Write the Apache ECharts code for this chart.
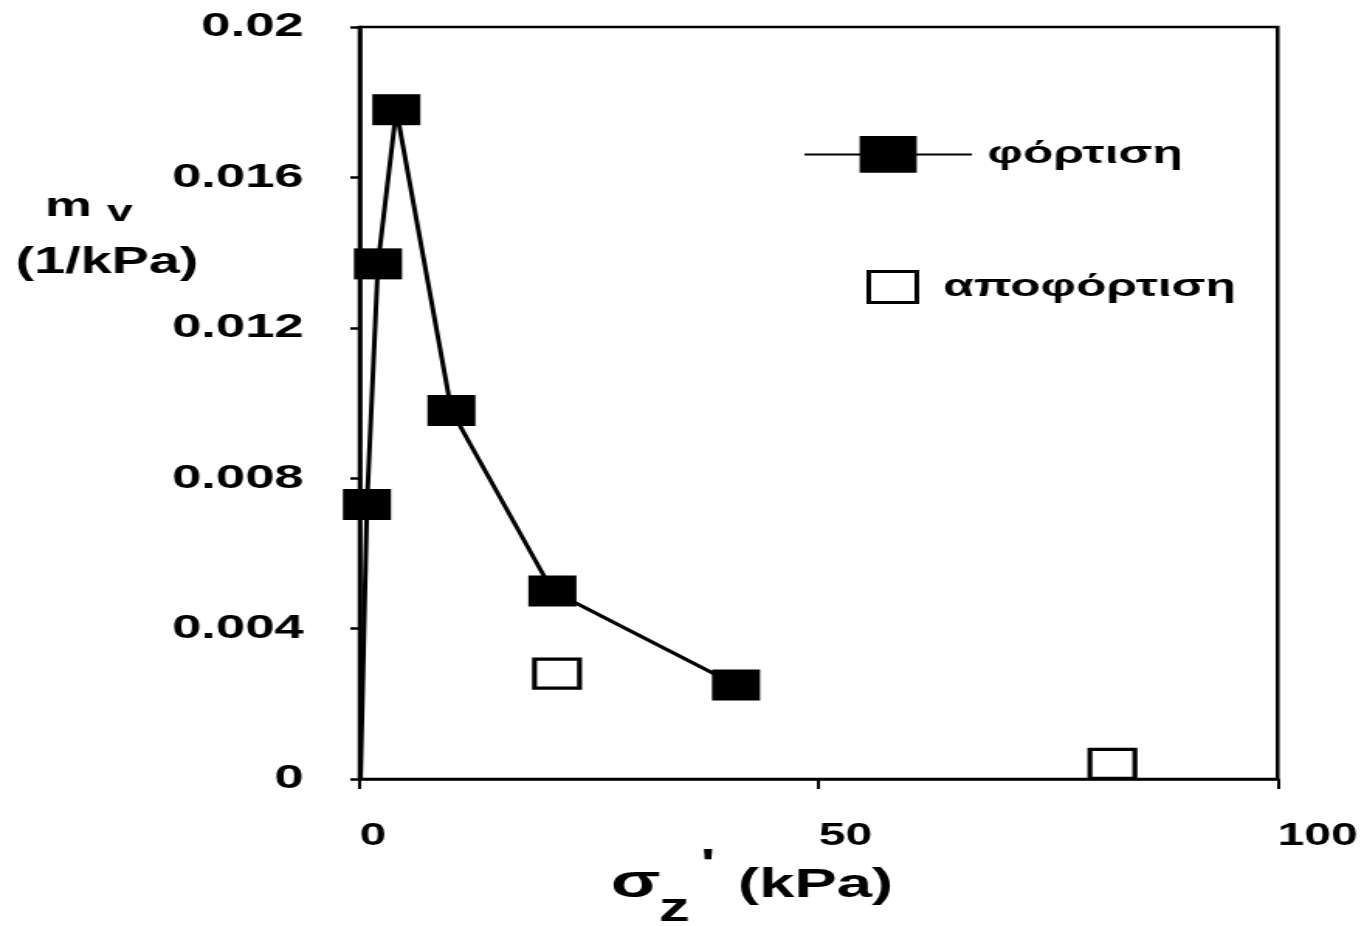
<!DOCTYPE html>
<html>
<head>
<meta charset="utf-8">
<script src="https://cdn.jsdelivr.net/npm/echarts@6/dist/echarts.min.js"></script>
<style>
  html, body { margin: 0; padding: 0; background: #fff; overflow: hidden; }
  #wrap { width: 1362px; height: 926px; overflow: hidden; }
  /* chart is laid out narrow and widened horizontally, like the printed figure */
  #chart { width: 879px; height: 926px; transform: scaleX(1.55); transform-origin: 0 0; }
</style>
</head>
<body>
<div id="wrap"><div id="chart"></div></div>
<script>
// effective vertical stress σz' (kPa) and coefficient of volume compressibility mv (1/kPa)
const loadStress = [0.1, 0.8, 2, 4, 10, 21, 41];
const loadMv = [0, 0.0073, 0.0137, 0.0178, 0.0098, 0.0050, 0.0025];
const loadMarker = [false, true, true, true, true, true, true];

const unloadStress = [21.5, 82];
const unloadMv = [0.0028, 0.0004];

const xTickLabels = ['0', '50', '100'];
const yTickLabels = ['0', '0.004', '0.008', '0.012', '0.016', '0.02'];

const seriesNames = ['φόρτιση', 'αποφόρτιση'];

const FONT = "'Liberation Sans', Arial, Helvetica, sans-serif";

const loadData = loadStress.map((s, i) =>
  loadMarker[i] ? [s, loadMv[i]] : { value: [s, loadMv[i]], symbol: 'none' });
const unloadData = unloadStress.map((s, i) => [s, unloadMv[i]]);

const chart = echarts.init(document.getElementById('chart'), null, { renderer: 'canvas' });

const txt = (x, y, text, size) => ({
  type: 'text', x, y,
  style: {
    text, font: `bold ${size}px ${FONT}`, fill: '#000',
    align: 'left', verticalAlign: 'middle', textAlign: 'left', textVerticalAlign: 'middle'
  }
});

chart.setOption({
  animation: false,
  backgroundColor: '#fff',
  grid: {
    left: 232, right: 54, top: 27, bottom: 147,
    show: true, borderColor: '#000', borderWidth: 2.5, backgroundColor: 'transparent'
  },
  xAxis: {
    type: 'value', min: 0, max: 100, interval: 50,
    axisLine: { show: true, onZero: false, lineStyle: { color: '#000', width: 2.6 } },
    axisTick: { show: true, inside: false, length: 10, lineStyle: { color: '#000', width: 2 } },
    splitLine: { show: false },
    axisLabel: {
      margin: 42, align: 'left', color: '#000',
      fontFamily: FONT, fontWeight: 'bold', fontSize: 31,
      formatter: (v, i) => xTickLabels[i]
    }
  },
  yAxis: {
    type: 'value', min: 0, max: 0.02, interval: 0.004,
    axisLine: { show: true, onZero: false, lineStyle: { color: '#000', width: 2.6 } },
    axisTick: { show: true, inside: false, length: 6, lineStyle: { color: '#000', width: 2.5 } },
    splitLine: { show: false },
    axisLabel: {
      margin: 36, color: '#000',
      fontFamily: FONT, fontWeight: 'bold', fontSize: 34,
      formatter: (v, i) => yTickLabels[i]
    }
  },
  legend: [
    {
      data: [seriesNames[0]],
      left: 513, top: 131, orient: 'vertical',
      itemWidth: 108, itemHeight: 46,
      textStyle: { color: '#000', fontFamily: FONT, fontWeight: 'bold', fontSize: 32, padding: [0, 0, 0, 5] }
    },
    {
      data: [{ name: seriesNames[1], icon: 'rect', itemStyle: { color: '#fff', borderColor: '#000', borderWidth: 3 } }],
      left: 554, top: 265, orient: 'vertical',
      itemWidth: 31, itemHeight: 31,
      textStyle: { color: '#000', fontFamily: FONT, fontWeight: 'bold', fontSize: 32, padding: [0, 0, 0, 12] }
    }
  ],
  series: [
    {
      name: seriesNames[0],
      type: 'line',
      data: loadData,
      symbol: 'rect', symbolSize: 31, showAllSymbol: true,
      lineStyle: { color: '#000', width: 3 },
      itemStyle: { color: '#000', borderColor: '#000', borderWidth: 0 },
      z: 3
    },
    {
      name: seriesNames[1],
      type: 'scatter',
      data: unloadData,
      symbol: 'rect', symbolSize: 29,
      itemStyle: { color: '#fff', borderColor: '#000', borderWidth: 3.2, opacity: 1 },
      z: 4
    }
  ],
  graphic: [
    // y-axis title: m_v (1/kPa)
    txt(29, 207, 'm', 34),
    txt(69, 213, 'v', 30),
    txt(10, 263, '(1/kPa)', 36),
    // x-axis title: σz' (kPa)
    txt(394, 884, 'σ', 47),
    txt(425, 910, 'z', 40),
    txt(452, 866, "'", 40),
    txt(476, 886, '(kPa)', 41)
  ]
});
</script>
</body>
</html>
